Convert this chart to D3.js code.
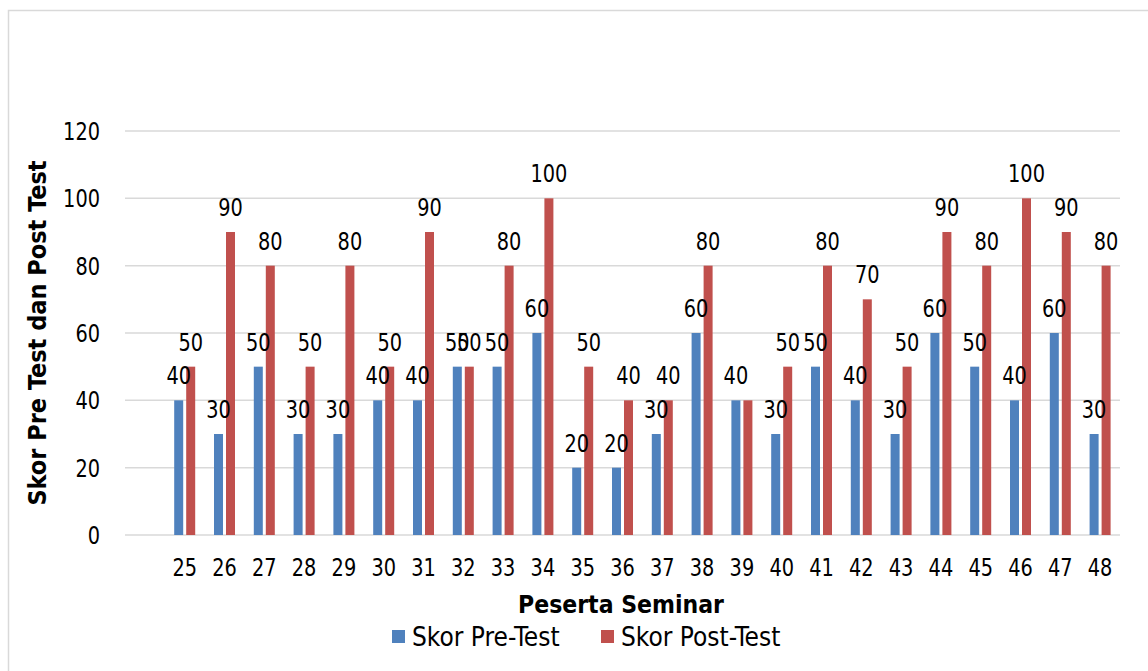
<!DOCTYPE html>
<html>
<head>
<meta charset="utf-8">
<script src="https://cdn.jsdelivr.net/npm/d3@7"></script>
<style>
  body { margin: 0; background: #fff; }
  svg text { font-family: "DejaVu Sans Condensed", "DejaVu Sans", sans-serif; fill: #000; }
</style>
</head>
<body>
<div id="chart"></div>
<script>
const width = 1148;
const height = 671;

// participants 25..48
const peserta = ["25","26","27","28","29","30","31","32","33","34","35","36",
                 "37","38","39","40","41","42","43","44","45","46","47","48"];
const preTest  = [40,30,50,30,30,40,40,50,50,60,20,20,30,60,40,30,50,40,30,60,50,40,60,30];
const postTest = [50,90,80,50,80,50,90,50,80,100,50,40,40,80,40,50,80,70,50,90,80,100,90,80];
const yTicks = [0,20,40,60,80,100,120];
const seriesNames = ["Skor Pre-Test", "Skor Post-Test"];
const colors = ["#4f81bd", "#c0504d"];
// post-test labels the original chart does not show (hidden behind the pre-test one)
const hiddenPostLabels = ["39"];

const svg = d3.select("#chart").append("svg")
  .attr("width", width)
  .attr("height", height);

// chart frame
svg.append("rect")
  .attr("x", 8.5).attr("y", 10.5)
  .attr("width", 1160).attr("height", 680)
  .attr("fill", "none")
  .attr("stroke", "#d9d9d9")
  .attr("stroke-width", 1.5);

const plotLeft = 125, plotRight = 1120;

const y = d3.scaleLinear().domain([0, 120]).range([535, 131]);

// first row of the sheet was empty, so categories start one slot in
const x = d3.scaleBand()
  .domain(peserta)
  .range([plotLeft + (plotRight - plotLeft) / 25, plotRight]);

const numScale = 0.86;

// numbers use a narrow face, squeeze them a bit
function numText(sel, fx, fy) {
  return sel
    .attr("transform", (d, i) => "translate(" + fx(d, i) + "," + fy(d, i) + ") scale(" + numScale + ",1)")
    .style("font-size", "25px")
    .text(d => d);
}

// grid
svg.append("g")
  .selectAll("line")
  .data(yTicks)
  .join("line")
  .attr("x1", plotLeft).attr("x2", plotRight)
  .attr("y1", d => y(d)).attr("y2", d => y(d))
  .attr("stroke", "#d9d9d9")
  .attr("stroke-width", 1.5);

// y tick labels
svg.append("g")
  .selectAll("text")
  .data(yTicks)
  .join("text")
  .attr("dy", "0.36em")
  .attr("text-anchor", "end")
  .call(numText, d => 100, d => y(d));

// x tick labels
svg.append("g")
  .selectAll("text")
  .data(peserta)
  .join("text")
  .attr("text-anchor", "middle")
  .call(numText, d => x(d) + x.bandwidth() / 2, d => 576);

const barW = 9;
const offsets = [-10.5, 1.5];
const series = [preTest, postTest];

series.forEach(function(vals, s) {
  svg.append("g")
    .selectAll("rect")
    .data(vals)
    .join("rect")
    .attr("x", (d, i) => x(peserta[i]) + x.bandwidth() / 2 + offsets[s])
    .attr("y", d => y(d))
    .attr("width", barW)
    .attr("height", d => y(0) - y(d))
    .attr("fill", colors[s]);
});

// data labels (drawn after bars so they sit on top)
series.forEach(function(vals, s) {
  svg.append("g")
    .selectAll("text")
    .data(vals.map((v, i) => ({v: v, i: i})).filter(d => !(s === 1 && hiddenPostLabels.includes(peserta[d.i]))))
    .join("text")
    .attr("text-anchor", "middle")
    .attr("transform", d => "translate(" + (x(peserta[d.i]) + x.bandwidth() / 2 + offsets[s] + barW / 2) + "," + (y(d.v) - 16) + ") scale(" + numScale + ",1)")
    .style("font-size", "25px")
    .text(d => d.v);
});

// axis titles
svg.append("text")
  .attr("transform", "translate(46,333) rotate(-90)")
  .attr("text-anchor", "middle")
  .style("font-size", "25px")
  .style("font-weight", "bold")
  .text("Skor Pre Test dan Post Test");

svg.append("text")
  .attr("x", 621)
  .attr("y", 613)
  .attr("text-anchor", "middle")
  .style("font-size", "24.5px")
  .style("font-weight", "bold")
  .text("Peserta Seminar");

// legend
const legendX = [392, 601];
seriesNames.forEach(function(name, i) {
  svg.append("rect")
    .attr("x", legendX[i]).attr("y", 630)
    .attr("width", 13).attr("height", 13)
    .attr("fill", colors[i]);
  svg.append("text")
    .attr("x", legendX[i] + 20)
    .attr("y", 646)
    .style("font-size", "26px")
    .text(name);
});
</script>
</body>
</html>
